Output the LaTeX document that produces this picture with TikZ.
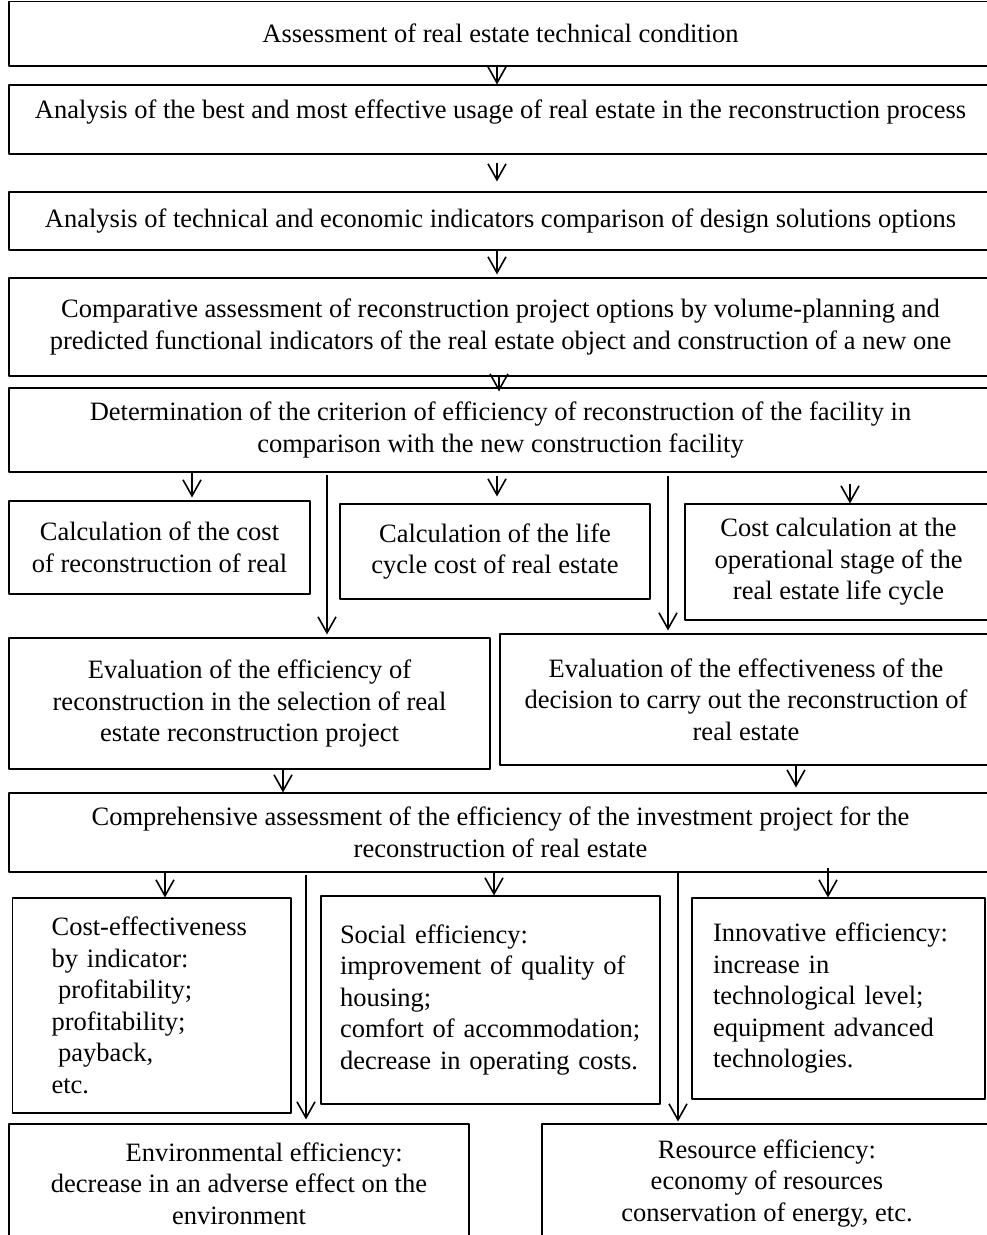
\documentclass[tikz,border=0pt]{standalone}
\usepackage{fontspec}
\setmainfont{Liberation Serif}
\usetikzlibrary{arrows.meta}
\begin{document}
\begin{tikzpicture}[x=1pt,y=-1pt,font=\fontsize{26.5}{31.5}\selectfont,line join=round,
	box/.style={draw,line width=1.1pt,inner sep=0pt,align=center},
	lbox/.style={draw,line width=1.1pt,inner ysep=0pt,align=left},
	arr/.style={-{Straight Barb[length=16pt,width=18pt]},line width=1.6pt}]
	\useasboundingbox (0,0) rectangle (987,1235);
	\node[box,minimum width=983pt,minimum height=64.5pt] (asm) at (500.5,33.75) {Assessment of real estate technical condition};
	\node[box,minimum width=983pt,minimum height=69pt,text depth=20pt] (best) at (500.5,119.5) {Analysis of the best and most effective usage of real estate in the reconstruction process};
	\node[box,minimum width=983pt,minimum height=58pt] (dsg) at (500.5,221) {Analysis of technical and economic indicators comparison of design solutions options};
	\node[box,minimum width=983pt,minimum height=98pt] (cmp) at (500.5,327) {Comparative assessment of reconstruction project options by volume-planning and\\predicted functional indicators of the real estate object and construction of a new one};
	\node[box,minimum width=983pt,minimum height=84pt] (det) at (500.5,430) {Determination of the criterion of efficiency of reconstruction of the facility in\\comparison with the new construction facility};
	\node[box,minimum width=301pt,minimum height=93pt] (ccr) at (159.5,547.5) {Calculation of the cost\\of reconstruction of real};
	\node[box,minimum width=310pt,minimum height=95pt] (lcc) at (495,551.5) {Calculation of the life\\cycle cost of real estate};
	\node[box,minimum width=307pt,minimum height=116pt] (opc) at (838.5,562) {Cost calculation at the\\operational stage of the\\real estate life cycle};
	\node[box,minimum width=481pt,minimum height=131pt] (evl) at (249.5,703.5) {Evaluation of the efficiency of\\reconstruction in the selection of real\\estate reconstruction project};
	\node[box,minimum width=492pt,minimum height=131pt] (evr) at (746,699.5) {Evaluation of the effectiveness of the\\decision to carry out the reconstruction of\\real estate};
	\node[box,minimum width=983pt,minimum height=79pt] (cae) at (500.5,832.5) {Comprehensive assessment of the efficiency of the investment project for the\\reconstruction of real estate};
	\node[lbox,text width=200.4pt,inner xsep=39pt,minimum height=215pt] (cef) at (151.8,1005.5) {Cost-effectiveness\\by indicator:\\\hspace*{.25em}profitability;\\profitability;\\\hspace*{.25em}payback,\\etc.};
	\node[lbox,text width=301pt,inner xsep=19pt,minimum height=208pt] (soc) at (490.5,1000) {Social efficiency:\\improvement of quality of\\housing;\\comfort of accommodation;\\decrease in operating costs.};
	\node[lbox,text width=251pt,inner xsep=21pt,minimum height=201pt] (inv) at (838.5,998.5) {Innovative efficiency:\\increase in\\technological level;\\equipment advanced\\technologies.};
	\node[box,minimum width=460pt,minimum height=119pt] (env) at (239,1183.5) {\hspace*{1.9em}Environmental efficiency:\\decrease in an adverse effect on the\\environment};
	\node[box,minimum width=450pt,minimum height=119pt] (res) at (767,1183.5) {Resource efficiency:\\economy of resources\\conservation of energy, etc.};
	\coordinate (k1) at (497,0);
	\coordinate (k2) at (499,0);
	\coordinate (k3) at (192,0);
	\coordinate (k4) at (327,0);
	\coordinate (k5) at (668,0);
	\coordinate (k6) at (850,0);
	\coordinate (k7) at (283,0);
	\coordinate (k8) at (796,0);
	\coordinate (k9) at (165,0);
	\coordinate (k10) at (306,0);
	\coordinate (k11) at (494,0);
	\coordinate (k12) at (678,0);
	\coordinate (k13) at (828,0);
	\draw[arr] (asm.south -| k1) -- (best.north -| k1);
	\draw[arr,shorten <=8pt,shorten >=10pt] (best.south -| k1) -- (dsg.north -| k1);
	\draw[arr,shorten >=3pt] (dsg.south -| k1) -- (cmp.north -| k1);
	\draw[arr,shorten >=-4pt] (cmp.south -| k2) -- (det.north -| k2);
	\draw[arr,shorten >=3pt] (det.south -| k3) -- (ccr.north -| k3);
	\draw[arr,shorten <=2pt,shorten >=3pt] (det.south -| k4) -- (evl.north -| k4);
	\draw[arr,shorten <=3pt,shorten >=7pt] (det.south -| k1) -- (lcc.north -| k1);
	\draw[arr,shorten <=3pt,shorten >=3pt] (det.south -| k5) -- (evr.north -| k5);
	\draw[arr,shorten <=11pt] (det.south -| k6) -- (opc.north -| k6);
	\draw[arr] (evl.south -| k7) -- (cae.north -| k7);
	\draw[arr,shorten >=5pt] (evr.south -| k8) -- (cae.north -| k8);
	\draw[arr] (cae.south -| k9) -- (cef.north -| k9);
	\draw[arr,shorten <=2pt,shorten >=4pt] (cae.south -| k10) -- (env.north -| k10);
	\draw[arr] (cae.south -| k11) -- (soc.north -| k11);
	\draw[arr,shorten >=2pt] (cae.south -| k12) -- (res.north -| k12);
	\draw[arr,shorten <=-5pt] (cae.south -| k13) -- (inv.north -| k13);
\end{tikzpicture}
\end{document}
